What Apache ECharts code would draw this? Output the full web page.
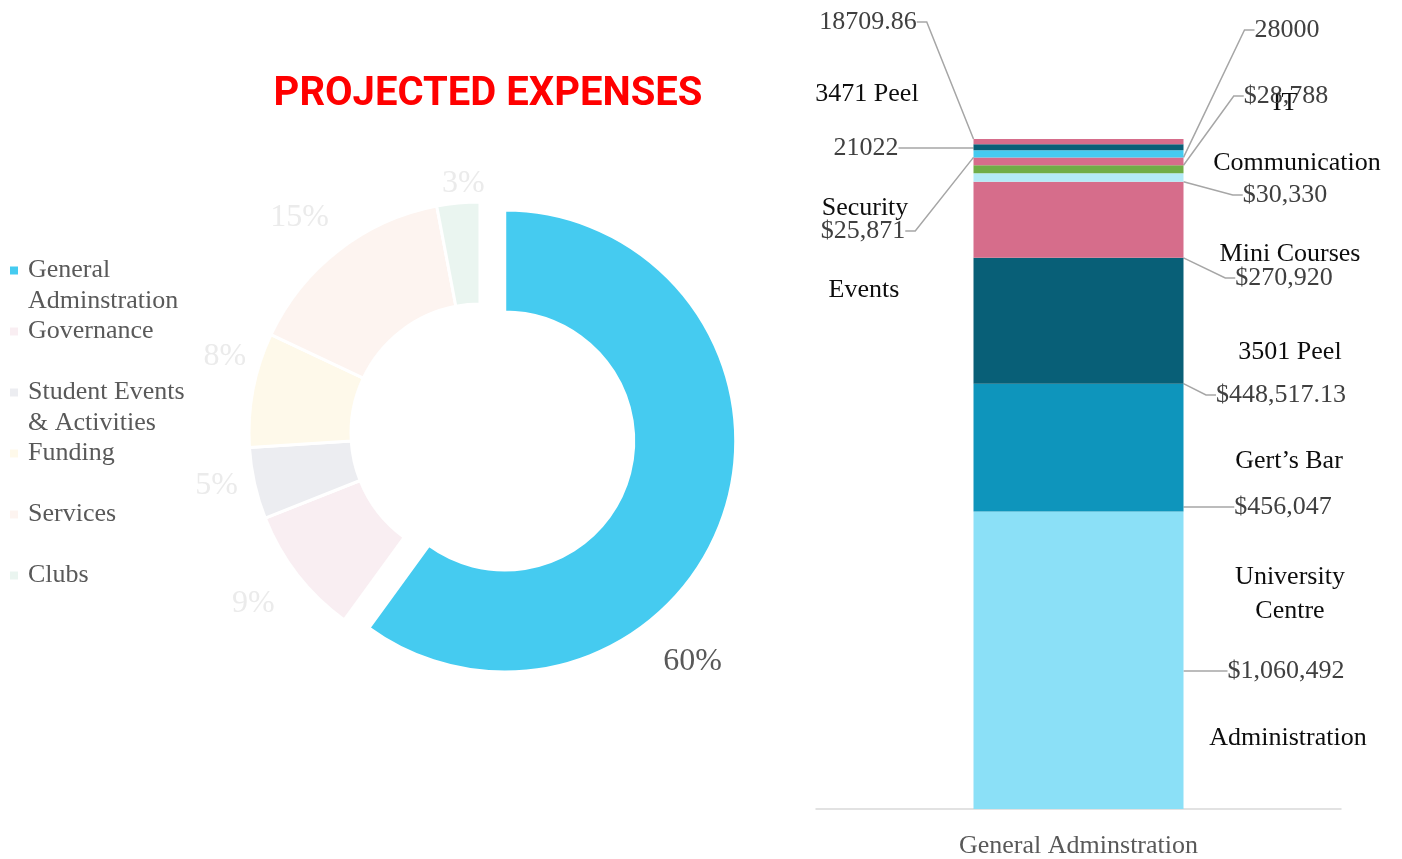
<!DOCTYPE html>
<html>
<head>
<meta charset="utf-8">
<title>Projected Expenses</title>
<script src="https://cdn.jsdelivr.net/npm/echarts@6/dist/echarts.min.js"></script>
<style>
  html, body { margin: 0; padding: 0; background: #fff; }
  #main { width: 1402px; height: 859px; }
</style>
</head>
<body>
<div id="main"></div>
<script>
// donut: share of projected expenses
const pieNames = ['General Adminstration', 'Governance', 'Student Events & Activities', 'Funding', 'Services', 'Clubs'];
const pieValues = [60, 9, 5, 8, 15, 3];

// stacked bar: general administration breakdown (bottom -> top)
const barCategories = ['General Adminstration'];
const barNames = ['Administration', 'Gert’s Bar', '3501 Peel', 'Mini Courses', 'Communication', 'IT', 'University Centre', 'Security', 'Events', '3471 Peel'];
const barValues = [1060492, 456047, 448517.13, 270920, 30330, 28788, 28000, 25871, 21022, 18709.86];
const barCurrency = [true, true, true, true, true, true, false, true, false, false];

// styles
const SERIF = '"Liberation Serif", "DejaVu Serif", serif';
const pieColors = ['#45CBF0', '#F9EEF2', '#ECEDF1', '#FEF9EA', '#FDF4F0', '#EAF5F0'];
const pieLabelColors = ['#595959', '#EBEBEB', '#EBEBEB', '#EBEBEB', '#EBEBEB', '#EBEBEB'];
const pieLabelOffset = [[-47, 144], [-11, 3], [3, -7], [13, -25], [-13, 0], [9, 22]];
const barColors = ['#8BE0F7', '#0E95BC', '#085F77', '#D66D8B', '#B3EBF7', '#70AD47', '#D66D8B', '#45CBF0', '#085F77', '#D66D8B'];

// where excel left the labels (pixel centres)
const valueLabelPos = [[1286, 671], [1283, 507], [1281, 395], [1284, 278], [1285, 195], [1286, 96], [1287, 30], [863, 231], [866, 148], [868, 22]];
const nameLabelPos = [[1288, 738], [1289, 461], [1290, 352], [1290, 254], [1297, 163], [1285, 103], [1290, 594], [865, 208], [864, 290], [867, 94]];
const nameLabelText = ['Administration', 'Gert’s Bar', '3501 Peel', 'Mini Courses', 'Communication', 'IT', 'University\nCentre', 'Security', 'Events', '3471 Peel'];

const fmtValue = (v, cur) => {
  if (!cur) return String(v);
  const dec = Math.round(v) === v ? 0 : 2;
  return '$' + v.toLocaleString('en-US', { minimumFractionDigits: dec, maximumFractionDigits: dec });
};

// wrap legend names at 170px, and pad them so the first line sits level with the marker
const measureCtx = document.createElement('canvas').getContext('2d');
measureCtx.font = '26px "Liberation Serif"';
const legendText = (name) => {
  const lines = [];
  let cur = '';
  name.split(' ').forEach((w) => {
    const t = cur ? cur + ' ' + w : w;
    if (cur && measureCtx.measureText(t).width > 170) {
      lines.push(cur);
      cur = w;
    } else {
      cur = t;
    }
  });
  lines.push(cur);
  return lines.length === 1 ? '\n' + lines[0] + '\n' : '\n' + lines.join('\n');
};

const chart = echarts.init(document.getElementById('main'));

const barSeries = barNames.map((name, i) => ({
  name: name,
  type: 'bar',
  stack: 'total',
  barWidth: '40%',
  data: [barValues[i]],
  itemStyle: { color: barColors[i] },
  label: {
    show: true,
    position: 'inside',
    formatter: () => fmtValue(barValues[i], barCurrency[i]),
    color: '#404040',
    fontSize: 26,
    fontFamily: SERIF
  },
  labelLine: { show: true, length2: 10, lineStyle: { color: '#A6A6A6', width: 1.5 } },
  labelLayout: () => ({ x: valueLabelPos[i][0], y: valueLabelPos[i][1], align: 'center', verticalAlign: 'middle' }),
  emphasis: { disabled: true }
}));

const option = {
  animation: false,
  title: {
    text: 'PROJECTED EXPENSES',
    left: 483,
    top: 70,
    textAlign: 'center',
    textStyle: { color: '#FF0000', fontSize: 40, fontWeight: 'bold', fontFamily: 'Roboto' }
  },
  legend: {
    data: pieNames,
    orient: 'vertical',
    left: 3,
    top: 219,
    icon: 'rect',
    itemWidth: 10,
    itemHeight: 10,
    itemGap: -32,
    selectedMode: false,
    formatter: legendText,
    textStyle: { fontSize: 26, color: '#595959', fontFamily: SERIF, lineHeight: 31, padding: [0, 0, 0, 4] }
  },
  grid: { left: 816, right: 61, top: 139, bottom: 50 },
  xAxis: {
    type: 'category',
    data: barCategories,
    axisTick: { show: false },
    axisLine: { lineStyle: { color: '#D9D9D9', width: 1.5 } },
    axisLabel: { color: '#595959', fontSize: 26, fontFamily: SERIF, margin: 24 }
  },
  yAxis: {
    type: 'value',
    show: false,
    min: 0,
    max: barValues.reduce((a, b) => a + b, 0),
    splitLine: { show: false }
  },
  graphic: nameLabelText.map((t, i) => ({
    type: 'text',
    x: nameLabelPos[i][0],
    y: nameLabelPos[i][1],
    silent: true,
    style: { text: t, fill: '#0D0D0D', font: '26px ' + SERIF, align: 'center', verticalAlign: 'middle', lineHeight: 34 }
  })),
  series: [
    ...barSeries,
    {
      type: 'pie',
      name: 'Projected Expenses',
      center: [480, 433],
      radius: [129, 231],
      startAngle: 90,
      selectedMode: 'single',
      selectedOffset: 26,
      avoidLabelOverlap: false,
      label: { show: false },
      labelLine: { show: false },
      itemStyle: { borderColor: '#fff', borderWidth: 3 },
      emphasis: { disabled: true },
      data: pieNames.map((n, i) => ({ name: n, value: pieValues[i], selected: i === 0, itemStyle: { color: pieColors[i] } }))
    },
    {
      // invisible ring that only carries the percentage labels
      type: 'pie',
      name: 'labels',
      center: [480, 433],
      radius: [255, 285],
      startAngle: 90,
      silent: true,
      avoidLabelOverlap: false,
      itemStyle: { color: 'rgba(0,0,0,0)' },
      label: { show: true, position: 'inside', formatter: '{d}%', fontSize: 32, fontFamily: SERIF },
      labelLine: { show: false },
      labelLayout: (p) => ({ dx: pieLabelOffset[p.dataIndex][0], dy: pieLabelOffset[p.dataIndex][1] }),
      emphasis: { disabled: true },
      data: pieNames.map((n, i) => ({ name: n, value: pieValues[i], label: { color: pieLabelColors[i] } }))
    }
  ]
};

chart.setOption(option);
</script>
</body>
</html>
